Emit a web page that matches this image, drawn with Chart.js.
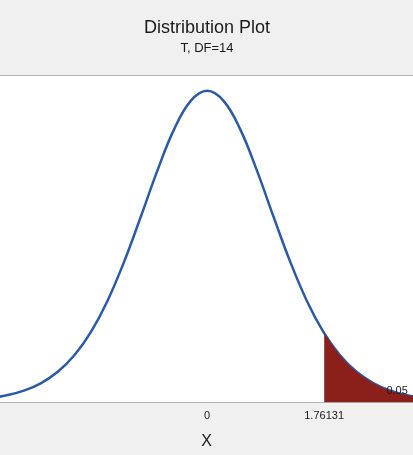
<!DOCTYPE html>
<html><head><meta charset="utf-8">
<script src="https://cdn.jsdelivr.net/npm/chart.js@4/dist/chart.umd.min.js"></script>
<style>html,body{margin:0;padding:0;background:#f0f0f0}#wrap{width:413px;height:455px}</style>
</head><body><div id="wrap"><canvas id="c"></canvas></div>
<script>
// t density, DF=14
const curveX = [-3.25,-3,-2.75,-2.5,-2.25,-2,-1.75,-1.5,-1.25,-1,-0.75,-0.5,-0.25,0,0.25,0.5,0.75,1,1.25,1.5,1.75,2,2.25,2.5,2.75,3,3.25];
const curveY = [0.0058,0.0095,0.0154,0.0247,0.0389,0.0598,0.0894,0.1288,0.1782,0.2348,0.2932,0.3450,0.3810,0.3940,0.3810,0.3450,0.2932,0.2348,0.1782,0.1288,0.0894,0.0598,0.0389,0.0247,0.0154,0.0095,0.0058];
const tailX = [1.76131,2,2.25,2.5,2.75,3,3.25];
const tailY = [0.0879,0.0598,0.0389,0.0247,0.0154,0.0095,0.0058];
const xTicks = [0, 1.76131];
const tailLabel = '0.05';

const frame = {
  id: 'frame',
  beforeDraw(ch) {
    const { ctx, chartArea: a, width } = ch;
    ctx.save();
    ctx.fillStyle = '#f0f0f0'; ctx.fillRect(0, 0, width, ch.height);
    ctx.fillStyle = '#ffffff'; ctx.fillRect(a.left, a.top, a.right - a.left, a.bottom - a.top);
    ctx.strokeStyle = '#b4b4b4'; ctx.lineWidth = 1;
    ctx.beginPath(); ctx.moveTo(0, a.top + 0.5); ctx.lineTo(width, a.top + 0.5); ctx.stroke();
    ctx.fillStyle = '#1a1a1a'; ctx.textAlign = 'center'; ctx.textBaseline = 'middle';
    ctx.font = '18px "Liberation Sans", Arial, sans-serif';
    ctx.fillText('Distribution Plot', 207, 28);
    ctx.font = '13px "Liberation Sans", Arial, sans-serif';
    ctx.fillText('T, DF=14', 207, 48);
    ctx.restore();
  },
  afterDatasetsDraw(ch) {
    const { ctx, scales: { x, y } } = ch;
    ctx.save();
    ctx.fillStyle = '#1a1a1a'; ctx.font = '11px "Liberation Sans", Arial, sans-serif';
    ctx.textAlign = 'left'; ctx.textBaseline = 'middle';
    ctx.fillText(tailLabel, x.getPixelForValue(2.7), y.getPixelForValue(0.015));
    ctx.restore();
  }
};

new Chart(document.getElementById('c'), {
  type: 'line',
  data: {
    datasets: [
      { data: tailX.map((v, i) => ({ x: v, y: tailY[i] })), borderWidth: 0, pointRadius: 0,
        fill: 'origin', backgroundColor: '#8b1f1a', tension: 0.4 },
      { data: curveX.map((v, i) => ({ x: v, y: curveY[i] })), borderColor: '#2a5aa8', borderWidth: 2.5,
        pointRadius: 0, fill: false, tension: 0.4 }
    ]
  },
  options: {
    responsive: true, maintainAspectRatio: false, animation: false,
    layout: { padding: { top: 75, left: 0, right: 0, bottom: 4 } },
    plugins: { legend: { display: false }, tooltip: { enabled: false } },
    scales: {
      x: { type: 'linear', min: -3.12, max: 3.1,
        afterBuildTicks: (s) => { s.ticks = xTicks.map(v => ({ value: v })); },
        grid: { display: false, drawTicks: false },
        border: { display: true, color: '#b4b4b4' },
        ticks: { padding: 7, color: '#1a1a1a', font: { size: 11, family: '"Liberation Sans", Arial' },
          callback: (v) => String(v), autoSkip: false, maxRotation: 0 },
        title: { display: true, text: 'X', color: '#1a1a1a', padding: { top: 2, bottom: 0 },
          font: { size: 16, family: '"Liberation Sans", Arial' } } },
      y: { display: false, min: 0, max: 0.414 }
    }
  },
  plugins: [frame]
});
</script></body></html>
